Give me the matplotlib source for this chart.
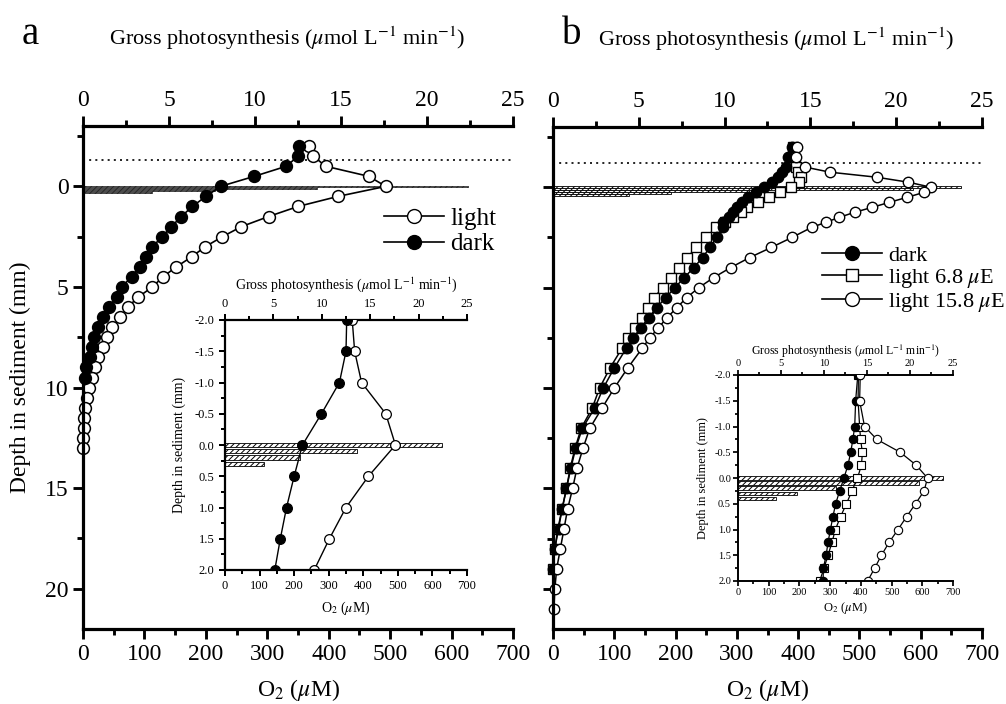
import matplotlib
matplotlib.use('Agg')
import matplotlib.pyplot as plt
from matplotlib.ticker import MultipleLocator, FormatStrFormatter
from matplotlib.lines import Line2D

plt.rcParams['font.family'] = ['Liberation Serif', 'DejaVu Serif']
plt.rcParams['mathtext.fontset'] = 'stix'
plt.rcParams['hatch.linewidth'] = 0.7

# ---- panel a: O2 profiles (uM) vs depth (mm) ----
depth_a_light = [-2.0, -1.5, -1.0, -0.5, 0.0, 0.5, 1.0, 1.5, 2.0, 2.5, 3.0, 3.5, 4.0, 4.5, 5.0, 5.5,
                 6.0, 6.5, 7.0, 7.5, 8.0, 8.5, 9.0, 9.5, 10.0, 10.5, 11.0, 11.5, 12.0, 12.5, 13.0]
o2_a_light = [368, 375, 395, 465, 493, 415, 350, 302, 258, 227, 199, 177, 152, 130, 113, 90,
              73, 61, 48, 39, 32, 24, 19, 15, 10, 6, 3, 2, 1, 0, 0]
depth_a_dark = [-2.0, -1.5, -1.0, -0.5, 0.0, 0.5, 1.0, 1.5, 2.0, 2.5, 3.0, 3.5, 4.0, 4.5, 5.0, 5.5,
                6.0, 6.5, 7.0, 7.5, 8.0, 8.5, 9.0, 9.5]
o2_a_dark = [352, 350, 331, 279, 224, 200, 178, 160, 144, 129, 113, 102, 92, 79, 63, 55,
             42, 32, 24, 18, 15, 11, 5, 3]
bar_depth_a = [0.0, 0.1, 0.2, 0.3]
gross_a = [22.4, 13.6, 7.7, 4.0]
dbl_a = -1.33

# ---- panel b ----
depth_b = [-2.0, -1.5, -1.0, -0.75, -0.5, -0.25, 0.0, 0.25, 0.5, 0.75, 1.0, 1.25, 1.5, 1.75, 2.0,
           2.5, 3.0, 3.5, 4.0, 4.5, 5.0, 5.5, 6.0, 6.5, 7.0, 7.5, 8.0, 9.0, 10.0, 11.0, 12.0,
           13.0, 14.0, 15.0, 16.0, 17.0, 18.0, 19.0, 20.0, 21.0]
o2_b_high = [398, 396, 412, 452, 528, 580, 617, 606, 578, 549, 521, 492, 467, 445, 422,
             390, 356, 321, 290, 262, 238, 218, 202, 186, 172, 158, 146, 122, 100, 80, 60,
             49, 39, 32, 24, 18, 12, 6, 3, 1.5]
depth_b_low = depth_b[:-2]
o2_b_dark = [390, 383, 380, 374, 367, 358, 345, 331, 318, 309, 301, 293, 287, 278, 277,
             267, 256, 244, 230, 214, 199, 184, 169, 156, 143, 131, 120, 100, 82, 68, 48,
             37, 29, 22, 15, 9, 3, 0]
o2_b_lowlight = [392, 391, 396, 399, 405, 402, 389, 371, 353, 334, 317, 306, 293, 280, 266,
                 250, 234, 219, 206, 193, 180, 164, 155, 146, 134, 123, 113, 93, 76, 64, 46,
                 36, 28, 22, 15, 8, 3, 0]
bar_depth_b = [0.0, 0.1, 0.2, 0.3, 0.4]
gross_b = [23.8, 21.0, 11.4, 6.9, 4.4]
dbl_b = -1.21

gp_label = r'Gross photosynthesis ($\mu$mol L$^{-1}$ min$^{-1}$)'
o2_label = r'O$_2$ ($\mu$M)'
depth_label = 'Depth in sediment (mm)'

W, H = 1006, 704
fig = plt.figure(figsize=(W / 100, H / 100), dpi=100)


def rect(x0, y0, x1, y1):
    return [x0 / W, 1 - y1 / H, (x1 - x0) / W, (y1 - y0) / H]


def make_axes(r, ylim, ymaj, ymin, yfmt, spw, fs, tl, pad=3.5, show_ylab=True):
    ax = fig.add_axes(r)
    top = ax.twiny()
    ax.set_zorder(top.get_zorder() + 1)
    ax.patch.set_visible(False)
    ax.set_xlim(0, 700)
    top.set_xlim(0, 25)
    ax.set_ylim(*ylim)
    for s in ['top', 'right']:
        ax.spines[s].set_visible(False)
    for s in ['bottom', 'left', 'right']:
        top.spines[s].set_visible(False)
    ax.spines['left'].set_linewidth(spw)
    ax.spines['bottom'].set_linewidth(spw)
    top.spines['top'].set_linewidth(spw)
    ax.xaxis.set_major_locator(MultipleLocator(100))
    ax.xaxis.set_minor_locator(MultipleLocator(50))
    top.xaxis.set_major_locator(MultipleLocator(5))
    top.xaxis.set_minor_locator(MultipleLocator(2.5))
    ax.yaxis.set_major_locator(MultipleLocator(ymaj))
    ax.yaxis.set_minor_locator(MultipleLocator(ymin))
    ax.yaxis.set_major_formatter(FormatStrFormatter(yfmt))
    for a in (ax, top):
        a.tick_params(which='major', direction='out', length=tl, width=spw * 0.9,
                      labelsize=fs, pad=pad)
        a.tick_params(which='minor', direction='out', length=tl * 0.65, width=spw * 0.9)
    ax.tick_params(axis='y', labelleft=show_ylab)
    return ax, top


def plot_series(ax, depth, o2, marker, fill, ms, lw, clip=False):
    ax.plot(o2, depth, color='black', lw=lw, marker=marker, ms=ms,
            mfc='black' if fill else 'white', mec='black', mew=lw * 0.9, clip_on=clip)


# ---------------- panel a ----------------
ax, top = make_axes(rect(83, 126, 513, 629), (22, -3), 5, 2.5, '%d', 2.3, 17, 7)
top.barh(bar_depth_a, gross_a, height=0.08, color='white', edgecolor='black', hatch='//////', lw=0.5)
ax.axhline(dbl_a, color='black', ls=(0, (1.2, 2.5)), lw=1.2)
plot_series(ax, depth_a_light, o2_a_light, 'o', False, 8.5, 1.2)
plot_series(ax, depth_a_dark, o2_a_dark, 'o', True, 8.5, 1.2)
ax.set_xlabel(o2_label, fontsize=17, labelpad=9)
ax.set_ylabel(depth_label, fontsize=17, labelpad=10)
top.set_xlabel(gp_label, fontsize=16, labelpad=33)
top.xaxis.label.set_x(0.474)
h = [Line2D([], [], color='black', marker='o', mfc='white', mec='black', ms=10, lw=1.2),
     Line2D([], [], color='black', marker='o', mfc='black', mec='black', ms=10, lw=1.2)]
ax.legend(h, ['light', 'dark'], loc='upper left', bbox_to_anchor=(0.70, 0.838), frameon=False,
          fontsize=18, handlelength=2.4, handletextpad=0.25, borderpad=0, borderaxespad=0,
          labelspacing=0.12)

# inset a
ia, ita = make_axes(rect(225, 320, 467, 570), (2, -2), 0.5, 0.25, '%.1f', 1.6, 9, 4)
ita.barh(bar_depth_a, gross_a, height=0.07, color='white', edgecolor='black', hatch='//////', lw=0.6)
plot_series(ia, depth_a_light, o2_a_light, 'o', False, 7, 1.0, clip=True)
plot_series(ia, depth_a_dark, o2_a_dark, 'o', True, 7, 1.0, clip=True)
ia.set_xlabel(o2_label, fontsize=10, labelpad=5)
ia.set_ylabel(depth_label, fontsize=10, labelpad=6)
ita.set_xlabel(gp_label, fontsize=10, labelpad=6)

# ---------------- panel b ----------------
bx, btop = make_axes(rect(553, 127, 982, 629), (22, -3), 5, 2.5, '%d', 2.3, 17, 7, show_ylab=False)
btop.barh(bar_depth_b, gross_b, height=0.08, color='white', edgecolor='black', hatch='//////', lw=0.6)
bx.axhline(dbl_b, color='black', ls=(0, (1.2, 2.5)), lw=1.2)
plot_series(bx, depth_b_low, o2_b_lowlight, 's', False, 7, 1.1)
plot_series(bx, depth_b_low, o2_b_dark, 'o', True, 7.5, 1.1)
plot_series(bx, depth_b, o2_b_high, 'o', False, 7.5, 1.1)
bx.set_xlabel(o2_label, fontsize=17, labelpad=9)
btop.set_xlabel(gp_label, fontsize=16, labelpad=33)
btop.xaxis.label.set_x(0.52)
hb = [Line2D([], [], color='black', marker='o', mfc='black', mec='black', ms=10, lw=1.2),
      Line2D([], [], color='black', marker='s', mfc='white', mec='black', ms=9, lw=1.2),
      Line2D([], [], color='black', marker='o', mfc='white', mec='black', ms=10, lw=1.2)]
bx.legend(hb, ['dark', r'light 6.8 $\mu$E', r'light 15.8 $\mu$E'], loc='upper left',
          bbox_to_anchor=(0.628, 0.765), frameon=False, fontsize=16, handlelength=2.7,
          handletextpad=0.25, borderpad=0, borderaxespad=0, labelspacing=0.05)

# inset b
ib, itb = make_axes(rect(738, 375, 953, 581), (2, -2), 0.5, 0.25, '%.1f', 1.4, 7.5, 3.5, pad=1.5)
itb.barh(bar_depth_b, gross_b, height=0.07, color='white', edgecolor='black', hatch='//////', lw=0.6)
plot_series(ib, depth_b_low, o2_b_lowlight, 's', False, 5.5, 0.9, clip=True)
plot_series(ib, depth_b_low, o2_b_dark, 'o', True, 6, 0.9, clip=True)
plot_series(ib, depth_b, o2_b_high, 'o', False, 6, 0.9, clip=True)
ib.set_xlabel(o2_label, fontsize=9, labelpad=2)
ib.set_ylabel(depth_label, fontsize=9, labelpad=4)
itb.set_xlabel(gp_label, fontsize=8.5, labelpad=3)

fig.text(22 / W, 1 - 35 / H, 'a', fontsize=28, va='center', ha='left')
fig.text(562 / W, 1 - 35 / H, 'b', fontsize=28, va='center', ha='left')

fig.savefig('out.png', dpi=100)
